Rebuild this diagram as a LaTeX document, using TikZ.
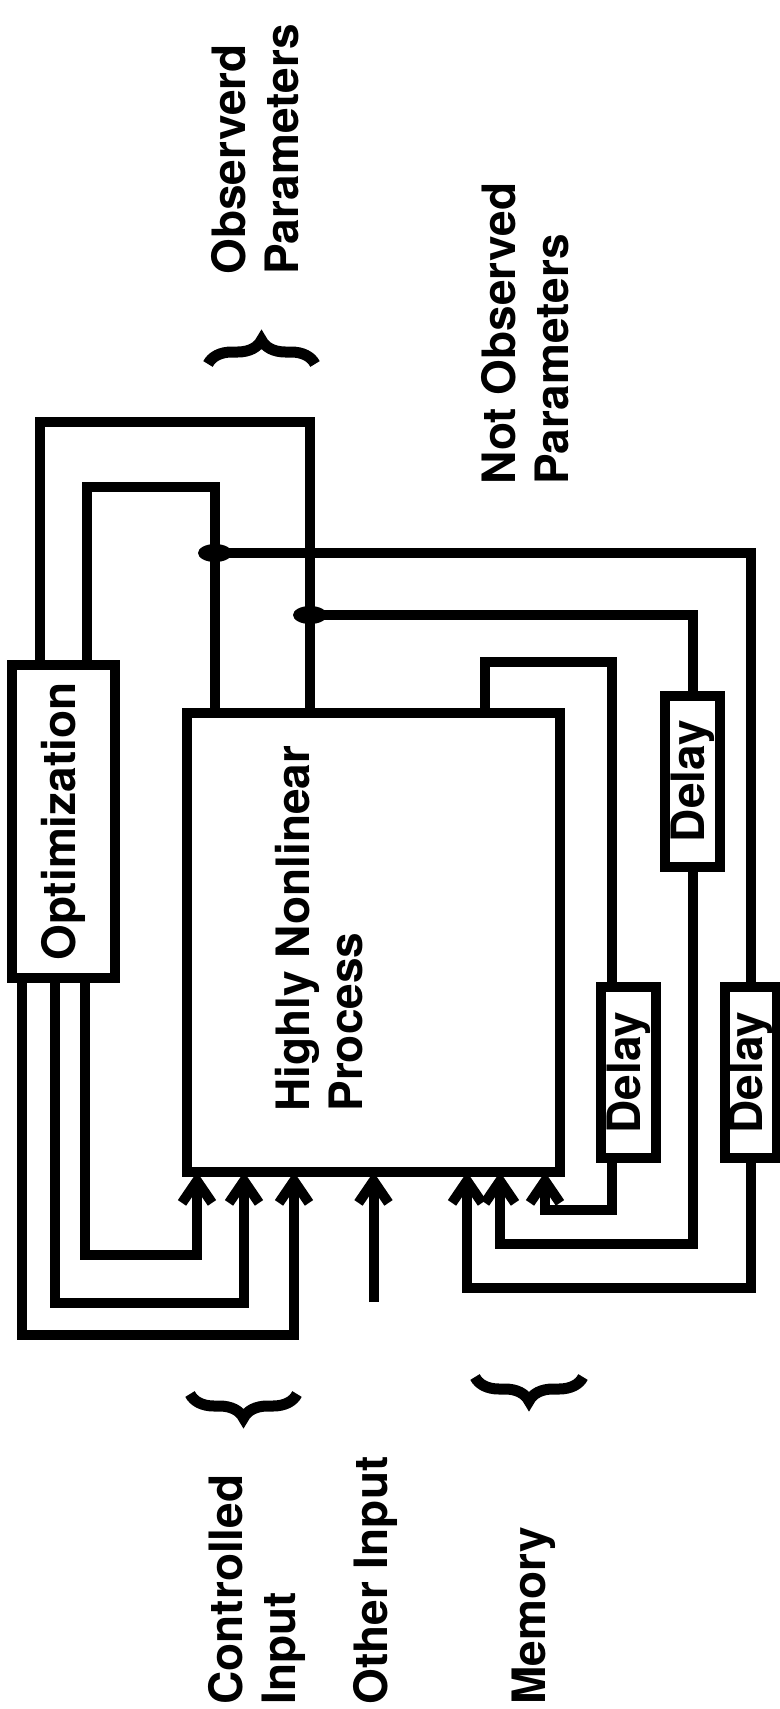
\documentclass[tikz,border=0pt]{standalone}
\usepackage{fontspec}
\setmainfont{TeX Gyre Heros}
\usetikzlibrary{arrows.meta,calc,decorations.pathreplacing}

\begin{document}
\begin{tikzpicture}[
    x=0.5pt, y=-0.5pt,
    font=\fontsize{23pt}{26.5pt}\selectfont\bfseries,
    >={Straight Barb[length=11pt,width=15pt]},
    wire/.style={line width=5pt, line join=miter},
    block/.style={draw, line width=5pt, fill=white, inner sep=0pt, outer sep=0pt},
    delaybox/.style={block, minimum width=27.5pt, minimum height=85.5pt},
    txt/.style={rotate=90, anchor=north west, align=left, inner sep=0pt},
    brc/.style={decorate, decoration={brace, amplitude=12pt}, line width=5.5pt}
]
\useasboundingbox (0,0) rectangle (780,1709);

% Blocks
\node[block, minimum width=51.5pt, minimum height=156.5pt] (opt) at (63.5,821.5) {\rotatebox{90}{Optimization}};
\node[block, minimum width=186.5pt, minimum height=229.5pt] (proc) at (373.5,942.5) {};
\node[txt] (proctxt) at ($(proc.south west)+(88,-60)$) {Highly Nonlinear\\Process};
\node[delaybox] (dly1) at (628.5,1072.5) {\rotatebox{90}{Delay}};
\node[delaybox] (dly2) at (692.5,781) {\rotatebox{90}{Delay}};
\node[delaybox, minimum width=26pt] (dly3) at (751,1072.5) {\rotatebox{90}{Delay}};

% Labels
\node[txt] (obs) at (211,275) {Observerd\\Parameters};
\node[txt] (notobs) at (481,485) {Not Observed\\Parameters};
\node[txt] (ctrl) at (208,1705) {Controlled\\Input};
\node[txt] (other) at (353,1705) {Other Input};
\node[txt] (mem) at (512,1705) {Memory};

% Braces
\draw[brc] (208,364) -- (315,364);
\draw[brc] (297,1394) -- (190,1394);
\draw[brc] (583,1377) -- (475,1377);

% Observed outputs back to optimization
\draw[wire] ($(opt.north)+(-23.5,0)$) -- ++(0,-243) -| ($(proc.north)+(-63.5,0)$);
\draw[wire] ($(opt.north)+(23.5,0)$) -- ++(0,-178) -| ($(proc.north)+(-158.5,0)$);
\coordinate (j1) at ($(proc.north)+(-158.5,-160)$);
\coordinate (j2) at ($(proc.north)+(-63.5,-98)$);
\draw[wire] (j1) -| (dly3.north);
\draw[wire] (j2) -| (dly2.north);
\fill (j1) ellipse [x radius=8.5pt, y radius=4.5pt];
\fill (j2) ellipse [x radius=8.5pt, y radius=4.5pt];
\draw[wire] ($(proc.north)+(111.5,0)$) -- ++(0,-51) -| ($(dly1.north)+(-16.5,0)$);

% Memory returns
\draw[wire,->] ($(dly1.south)+(-16.5,0)$) -- ++(0,52) -| ($(proc.south)+(171.5,0)$);
\draw[wire,->] (dly2.south) -- ++(0,377) -| ($(proc.south)+(126.5,0)$);
\draw[wire,->] (dly3.south) -- ++(0,130) -| ($(proc.south)+(93.5,0)$);

% Controlled inputs
\draw[wire,->] ($(opt.south)+(-41.5,0)$) -- ++(0,357) -| ($(proc.south)+(-79.5,0)$);
\draw[wire,->] ($(opt.south)+(-8.5,0)$) -- ++(0,325) -| ($(proc.south)+(-129.5,0)$);
\draw[wire,->] ($(opt.south)+(21.5,0)$) -- ++(0,277) -| ($(proc.south)+(-176.5,0)$);

% Other input
\coordinate (oin) at ($(proc.south)+(0,130)$);
\draw[wire,->] (oin) -- (proc.south);

\end{tikzpicture}
\end{document}
